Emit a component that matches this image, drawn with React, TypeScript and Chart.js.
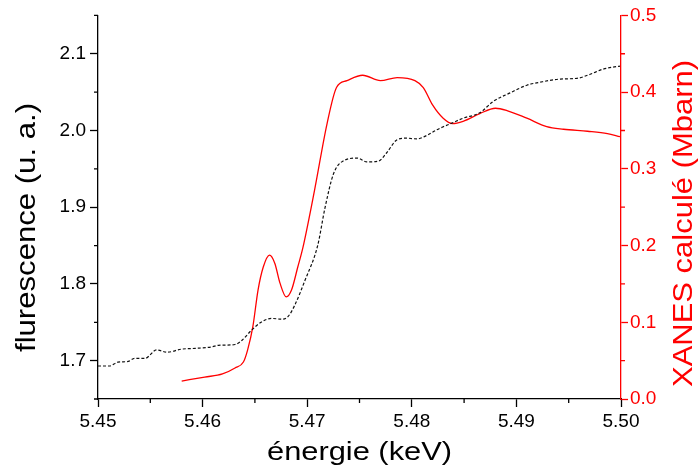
import React, { useEffect, useRef } from "react";
import { Chart, registerables } from "chart.js";

Chart.register(...registerables);

const FONT = "'Liberation Sans', Arial, Helvetica, sans-serif";

// Titles
const xTitle = "énergie (keV)";
const yTitle = "flurescence (u. a.)";
const y1Title = "XANES calculé (Mbarn)";

// Major tick values
const xTicks = [5.45, 5.46, 5.47, 5.48, 5.49, 5.5];
const yTicks = [1.7, 1.8, 1.9, 2.0, 2.1];
const y1Ticks = [0, 0.1, 0.2, 0.3, 0.4, 0.5];

// Fluorescence (experimental, left axis)
const fluoE = [
  5.45, 5.4511, 5.4519, 5.4529, 5.4535, 5.4545, 5.4556, 5.4566, 5.458, 5.4593,
  5.4609, 5.4615, 5.4631, 5.4638, 5.4647, 5.4657, 5.4666, 5.4676, 5.4682, 5.4688,
  5.4698, 5.471, 5.4717, 5.4725, 5.4734, 5.4748, 5.4757, 5.4768, 5.4776, 5.4786,
  5.4795, 5.4805, 5.4815, 5.4824, 5.4839, 5.4849, 5.4865, 5.4878, 5.4894, 5.491,
  5.4923, 5.4942, 5.4958, 5.497, 5.4983, 5.4999,
];
const fluoI = [
  1.693, 1.693, 1.698, 1.699, 1.703, 1.703, 1.714, 1.711, 1.715, 1.716,
  1.718, 1.72, 1.721, 1.727, 1.74, 1.751, 1.755, 1.754, 1.758, 1.772,
  1.805, 1.85, 1.899, 1.943, 1.96, 1.964, 1.959, 1.96, 1.971, 1.988,
  1.99, 1.989, 1.994, 2.001, 2.01, 2.016, 2.023, 2.038, 2.049, 2.059,
  2.063, 2.067, 2.068, 2.073, 2.08, 2.084,
];

// Calculated XANES (right axis)
const xanesE = [
  5.458, 5.4602, 5.4619, 5.4631, 5.4639, 5.4643, 5.4648, 5.4653, 5.4658, 5.4664,
  5.4669, 5.4674, 5.468, 5.4685, 5.4691, 5.4696, 5.4707, 5.4719, 5.4728, 5.4738,
  5.4753, 5.477, 5.4786, 5.4803, 5.4811, 5.482, 5.483, 5.4839, 5.4849, 5.4865,
  5.488, 5.4891, 5.491, 5.4929, 5.4945, 5.4968, 5.4987, 5.4999,
];
const xanesV = [
  0.0234, 0.0286, 0.0326, 0.0404, 0.0482, 0.0638, 0.094, 0.142, 0.172, 0.1875,
  0.177, 0.151, 0.133, 0.142, 0.172, 0.198, 0.272, 0.359, 0.406, 0.415,
  0.422, 0.415, 0.419, 0.415, 0.406, 0.383, 0.366, 0.359, 0.362, 0.372,
  0.379, 0.376, 0.366, 0.355, 0.3516, 0.349, 0.346, 0.342,
];

const minorTicks = {
  id: "minorTicks",
  afterDraw(chart: any) {
    const ctx = chart.ctx;
    const defs = [
      { id: "x", len: 4, color: "#000" },
      { id: "y", len: 4, color: "#000" },
      { id: "y1", len: 4, color: "#ff0000" },
    ];
    for (const d of defs) {
      const s = chart.scales[d.id];
      const t = s.ticks.map((k: any) => k.value);
      if (t.length < 2) continue;
      const step = t[1] - t[0];
      ctx.save();
      ctx.strokeStyle = d.color;
      ctx.lineWidth = 1.3;
      ctx.beginPath();
      for (let i = 0; i < 40; i++) {
        const v = t[0] - step / 2 + i * step;
        if (v > s.max + 1e-9) break;
        if (v < s.min - 1e-9) continue;
        const p = s.getPixelForValue(v);
        if (d.id === "x") {
          ctx.moveTo(p, s.top);
          ctx.lineTo(p, s.top + d.len);
        } else if (d.id === "y") {
          ctx.moveTo(s.right, p);
          ctx.lineTo(s.right - d.len, p);
        } else {
          ctx.moveTo(s.left, p);
          ctx.lineTo(s.left + d.len, p);
        }
      }
      ctx.stroke();
      ctx.restore();
    }
  },
};

function drawStretched(
  ctx: CanvasRenderingContext2D,
  text: string,
  x: number,
  y: number,
  rot: number,
  size: number,
  targetLen: number,
  color: string
) {
  ctx.save();
  ctx.font = `${size}px ${FONT}`;
  ctx.fillStyle = color;
  ctx.textAlign = "center";
  ctx.textBaseline = "alphabetic";
  const w = ctx.measureText(text).width;
  ctx.translate(x, y);
  ctx.rotate(rot);
  ctx.scale(targetLen / w, 1);
  ctx.fillText(text, 0, 0);
  ctx.restore();
}

const axisTitles = {
  id: "axisTitles",
  afterDraw(chart: any) {
    const ctx = chart.ctx;
    const a = chart.chartArea;
    drawStretched(ctx, xTitle, (a.left + a.right) / 2, 460, 0, 26, 185, "#000");
    drawStretched(ctx, yTitle, 35, 227.5, -Math.PI / 2, 28, 249, "#000");
    drawStretched(ctx, y1Title, 692, 223.5, -Math.PI / 2, 28, 327, "#ff0000");
  },
};

const setTicks = (vals: number[]) => (s: any) => {
  s.ticks = vals.map((v) => ({ value: v }));
};

export default function App() {
  const ref = useRef<HTMLCanvasElement | null>(null);

  useEffect(() => {
    if (!ref.current) return;
    const chart = new Chart(ref.current, {
      type: "line",
      data: {
        datasets: [
          {
            label: "fluo",
            data: fluoE.map((e, i) => ({ x: e, y: fluoI[i] })),
            yAxisID: "y",
            borderColor: "#111",
            borderWidth: 1.2,
            borderDash: [3, 2],
            pointRadius: 0,
            cubicInterpolationMode: "monotone",
            fill: false,
          },
          {
            label: "xanes",
            data: xanesE.map((e, i) => ({ x: e, y: xanesV[i] })),
            yAxisID: "y1",
            borderColor: "#ff0000",
            borderWidth: 1.3,
            pointRadius: 0,
            cubicInterpolationMode: "monotone",
            fill: false,
          },
        ],
      },
      options: {
        animation: false,
        responsive: false,
        maintainAspectRatio: false,
        layout: { padding: { top: 15, left: 0, right: 0, bottom: 0 } },
        plugins: {
          legend: { display: false },
          tooltip: { enabled: false },
        },
        scales: {
          x: {
            type: "linear",
            position: "bottom",
            min: 5.45,
            max: 5.5,
            afterBuildTicks: setTicks(xTicks),
            afterFit: (s: any) => {
              s.height = 71;
            },
            ticks: {
              callback: (v: any) => Number(v).toFixed(2),
              font: { family: FONT, size: 19 },
              color: "#000",
              padding: 3,
              maxRotation: 0,
              autoSkip: false,
            },
            grid: {
              drawOnChartArea: false,
              drawTicks: true,
              tickLength: 8,
              tickColor: "#000",
              tickWidth: 1.3,
            },
            border: { color: "#000", width: 1.3 },
          },
          y: {
            type: "linear",
            position: "left",
            min: 1.65,
            max: 2.15,
            afterBuildTicks: setTicks(yTicks),
            afterFit: (s: any) => {
              s.width = 98;
            },
            ticks: {
              callback: (v: any) => Number(v).toFixed(1),
              font: { family: FONT, size: 19 },
              color: "#000",
              padding: 4,
              autoSkip: false,
            },
            grid: {
              drawOnChartArea: false,
              drawTicks: true,
              tickLength: 8,
              tickColor: "#000",
              tickWidth: 1.3,
            },
            border: { color: "#000", width: 1.3 },
          },
          y1: {
            type: "linear",
            position: "right",
            min: 0,
            max: 0.5,
            afterBuildTicks: setTicks(y1Ticks),
            afterFit: (s: any) => {
              s.width = 78;
            },
            ticks: {
              callback: (v: any) => Number(v).toFixed(1),
              font: { family: FONT, size: 19 },
              color: "#ff0000",
              padding: 2,
              autoSkip: false,
            },
            grid: {
              drawOnChartArea: false,
              drawTicks: true,
              tickLength: 7,
              tickColor: "#ff0000",
              tickWidth: 1.3,
            },
            border: { color: "#ff0000", width: 1.3 },
          },
        },
      },
      plugins: [minorTicks, axisTitles],
    } as any);
    return () => chart.destroy();
  }, []);

  return (
    <div style={{ position: "absolute", left: 0, top: 0, width: 699, height: 470 }}>
      <canvas ref={ref} width={699} height={470} style={{ display: "block" }} />
    </div>
  );
}
